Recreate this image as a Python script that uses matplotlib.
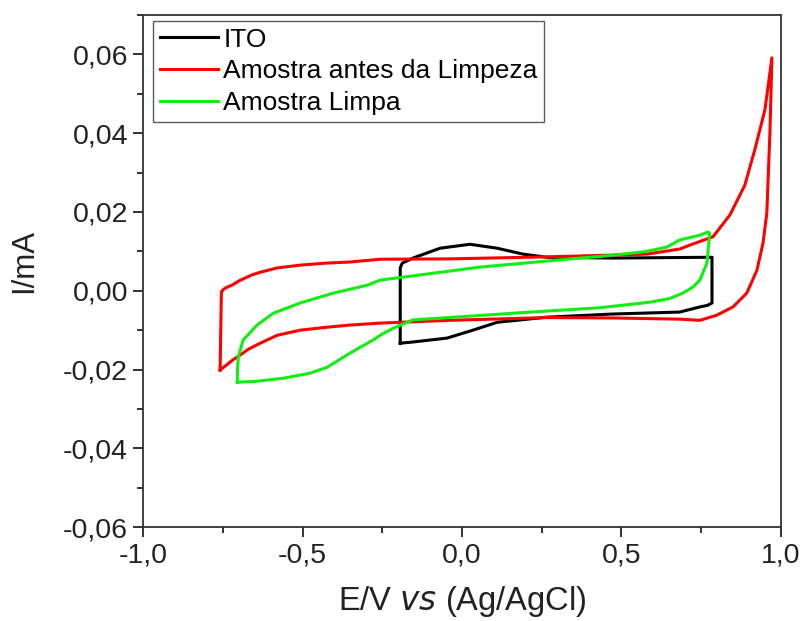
import matplotlib
matplotlib.use("Agg")
import matplotlib.pyplot as plt
from matplotlib.ticker import FixedLocator, MultipleLocator

plt.rcParams['font.family'] = ['Liberation Sans', 'DejaVu Sans']

# ITO loop (E in V, I in mA)
ito_E = [-0.194, -0.194, -0.188, -0.154, -0.069, 0.025, 0.110, 0.191, 0.266, 0.473, 0.777, 0.784,
         0.784, 0.770, 0.746, 0.683, 0.473, 0.266, 0.110, 0.034, -0.047, -0.154, -0.194, -0.194]
ito_I = [-0.0133, 0.0058, 0.0070, 0.0083, 0.0108, 0.0118, 0.0108, 0.0093, 0.0085, 0.0083, 0.0085, 0.0085,
         -0.0031, -0.0037, -0.0041, -0.0054, -0.0059, -0.0067, -0.0080, -0.0100, -0.0120, -0.0130, -0.0133, -0.0133]

# Sample before cleaning
red_E = [-0.759, -0.757, -0.755, -0.748, -0.740, -0.720, -0.700, -0.660, -0.633, -0.580, -0.508, -0.430, -0.351, -0.257,
         -0.038, 0.266, 0.580, 0.683, 0.715, 0.787, 0.840, 0.887, 0.918, 0.950, 0.972,
         0.966, 0.956, 0.944, 0.925, 0.893, 0.850, 0.799, 0.746, 0.683, 0.473, 0.266, -0.038,
         -0.257, -0.351, -0.430, -0.508, -0.580, -0.633, -0.670, -0.696, -0.720, -0.743, -0.759]
red_I = [-0.0201, -0.0100, -0.0003, 0.0004, 0.0008, 0.0015, 0.0025, 0.0040, 0.0047, 0.0058, 0.0065, 0.0070, 0.0073, 0.0080,
         0.0081, 0.0086, 0.0093, 0.0106, 0.0116, 0.0137, 0.0192, 0.0268, 0.0357, 0.0459, 0.0591,
         0.0408, 0.0197, 0.0121, 0.0052, -0.0006, -0.0041, -0.0062, -0.0075, -0.0072, -0.0069, -0.0068, -0.0075,
         -0.0082, -0.0087, -0.0093, -0.0100, -0.0113, -0.0133, -0.0148, -0.0163, -0.0176, -0.0191, -0.0201]

# Cleaned sample
grn_E = [-0.705, -0.650, -0.561, -0.476, -0.423, -0.351, -0.279, -0.257, -0.216, -0.154, 0.160, 0.433, 0.589, 0.650, 0.693, 0.725, 0.746, 0.768, 0.777,
         0.771, 0.746, 0.683, 0.643, 0.580, 0.536, 0.433, 0.370, 0.056, -0.257, -0.298, -0.404, -0.508, -0.592, -0.643, -0.687, -0.702, -0.705, -0.705]
grn_I = [-0.0232, -0.0230, -0.0222, -0.0209, -0.0194, -0.0158, -0.0125, -0.0113, -0.0095, -0.0074, -0.0057, -0.0043, -0.0029, -0.0020, -0.0006, 0.0010, 0.0027, 0.0070, 0.0146,
         0.0149, 0.0141, 0.0129, 0.0111, 0.0100, 0.0096, 0.0087, 0.0083, 0.0060, 0.0027, 0.0014, -0.0006, -0.0031, -0.0057, -0.0087, -0.0125, -0.0168, -0.0209, -0.0232]

labels = ["ITO", "Amostra antes da Limpeza", "Amostra Limpa"]
x_ticks = [-1.0, -0.5, 0.0, 0.5, 1.0]
x_tick_labels = ["-1,0", "-0,5", "0,0", "0,5", "1,0"]
y_ticks = [-0.06, -0.04, -0.02, 0.00, 0.02, 0.04, 0.06]
y_tick_labels = ["-0,06", "-0,04", "-0,02", "0,00", "0,02", "0,04", "0,06"]

fig = plt.figure(figsize=(8.05, 6.21), dpi=100)
ax = fig.add_axes([0.178, 0.151, 0.792, 0.825])

lw = 2.2
ax.plot(ito_E, ito_I, color='black', lw=lw, label=labels[0])
ax.plot(red_E, red_I, color='#ff0000', lw=lw, label=labels[1])
ax.plot(grn_E, grn_I, color='#11ee11', lw=lw, label=labels[2])

ax.set_xlim(-1.0, 1.0)
ax.set_ylim(-0.06, 0.07)
ax.xaxis.set_major_locator(FixedLocator(x_ticks))
ax.set_xticklabels(x_tick_labels)
ax.yaxis.set_major_locator(FixedLocator(y_ticks))
ax.set_yticklabels(y_tick_labels)
ax.xaxis.set_minor_locator(MultipleLocator(0.25))
ax.yaxis.set_minor_locator(MultipleLocator(0.01))
ax.tick_params(which='both', direction='out', top=False, right=False, labelsize=20.5, width=1.3, colors='#222222')
ax.tick_params(which='major', length=7, pad=4)
ax.tick_params(which='minor', length=4)
for s in ax.spines.values():
    s.set_linewidth(1.3)
    s.set_color('#333333')

ax.set_xlabel(r"E/V $\it{vs}$ (Ag/AgCl)", fontsize=23.5, color='#222222', labelpad=11)
ax.set_ylabel("I/mA", fontsize=22.5, color='#222222')
ax.yaxis.set_label_coords(-0.164, 0.52)

leg = ax.legend(loc='upper left', bbox_to_anchor=(10 / 638, 1 - 6 / 512), borderaxespad=0,
                fontsize=19, frameon=True, fancybox=False, handlelength=2.2,
                borderpad=0.25, labelspacing=0.3, handletextpad=0.2)
leg.get_frame().set_edgecolor('#333333')
leg.get_frame().set_linewidth(1.0)

fig.savefig("out.png", dpi=100)
